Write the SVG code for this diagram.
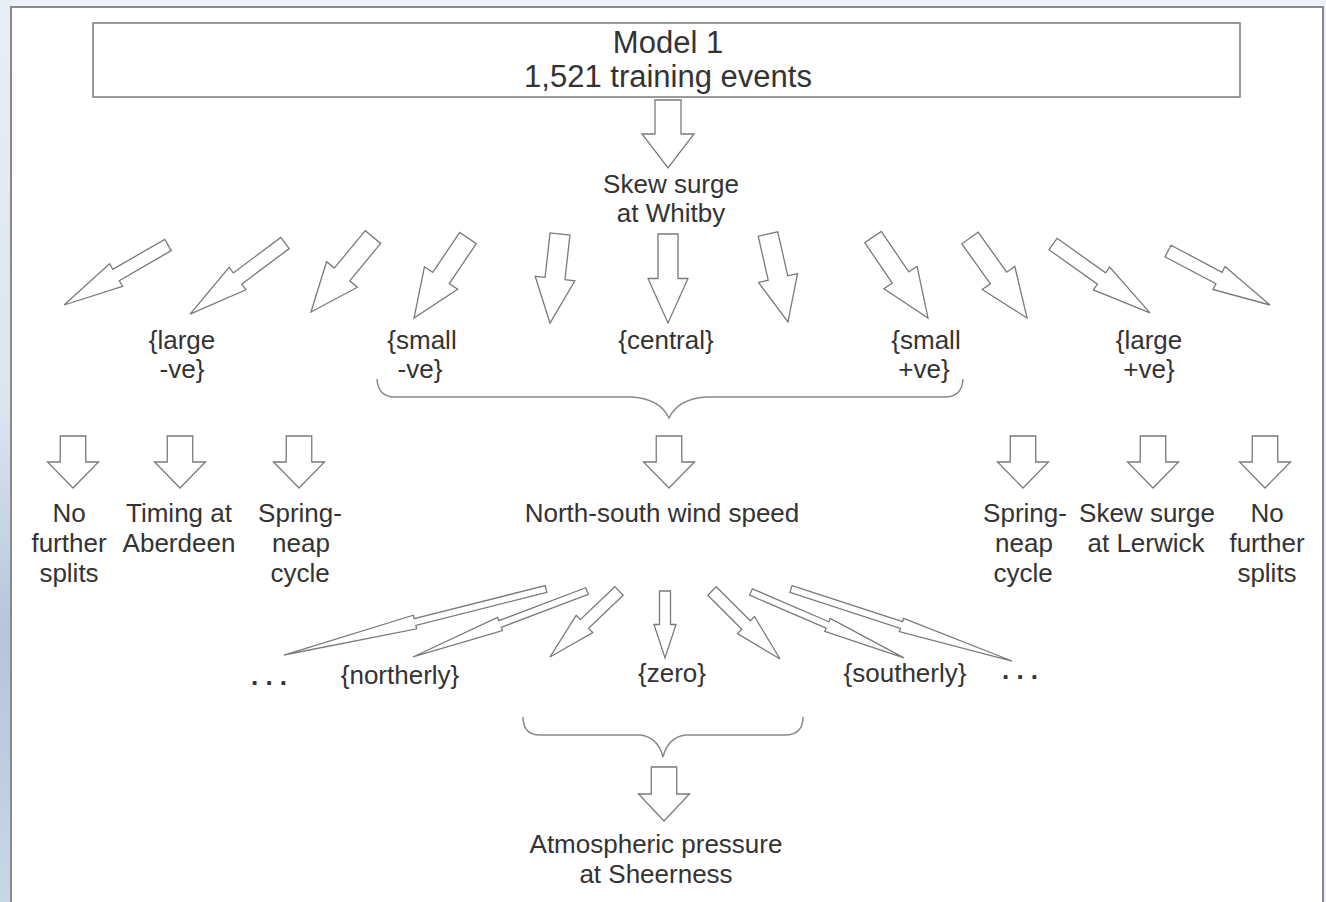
<svg xmlns="http://www.w3.org/2000/svg" xmlns:xlink="http://www.w3.org/1999/xlink" width="1326" height="902" viewBox="0 0 1326 902">
<style>
  .t { font-family: "Liberation Sans", Arial, sans-serif; fill: #333; text-anchor: middle; }
  .s26 { font-size: 26px; }
  .s30 { font-size: 31px; }
  .dots { font-weight: bold; }
  .arr { fill: #fff; stroke: #7a7a7a; stroke-width: 1.3; stroke-linejoin: miter; vector-effect: non-scaling-stroke; }
  .brace { fill: none; stroke: #888; stroke-width: 1.5; }
</style>
<defs>
  <linearGradient id="bg" x1="0" y1="0" x2="0" y2="1">
    <stop offset="0" stop-color="#e8eef6"/>
    <stop offset="0.45" stop-color="#dce5f0"/>
    <stop offset="0.7" stop-color="#b4c6dc"/>
    <stop offset="1" stop-color="#c8d6e7"/>
  </linearGradient>
  <polygon id="arr" class="arr" points="0,-0.25 0.5,-0.25 0.5,-0.5 1,0 0.5,0.5 0.5,0.25 0,0.25"/>
</defs>
<rect x="0" y="0" width="1326" height="902" fill="#edf2f8"/>
<rect x="0" y="0" width="12" height="902" fill="url(#bg)"/>
<rect x="11" y="7" width="1312" height="900" fill="#fff" stroke="#8a8a8a" stroke-width="2"/>

<g id="model1">
  <rect x="93" y="23" width="1147" height="74" fill="#fff" stroke="#7a7a7a" stroke-width="1.5"/>
  <text class="t s30" x="668" y="53">Model 1</text>
  <text class="t s30" x="668" y="87">1,521 training events</text>
</g>
<g id="skew-whitby">
  <text class="t s26" x="671" y="193">Skew surge</text>
  <text class="t s26" x="671" y="222">at Whitby</text>
</g>
<g id="large-neg"><text class="t s26" x="182" y="349">{large</text><text class="t s26" x="182" y="378">-ve}</text></g>
<g id="small-neg"><text class="t s26" x="422" y="349">{small</text><text class="t s26" x="420" y="378">-ve}</text></g>
<g id="central"><text class="t s26" x="666" y="349">{central}</text></g>
<g id="small-pos"><text class="t s26" x="926" y="349">{small</text><text class="t s26" x="924" y="378">+ve}</text></g>
<g id="large-pos"><text class="t s26" x="1149" y="349">{large</text><text class="t s26" x="1149" y="378">+ve}</text></g>

<g id="no-further-left"><text class="t s26" x="69" y="522">No</text><text class="t s26" x="69" y="552">further</text><text class="t s26" x="69" y="582">splits</text></g>
<g id="timing-aberdeen"><text class="t s26" x="179" y="522">Timing at</text><text class="t s26" x="179" y="552">Aberdeen</text></g>
<g id="spring-neap-left"><text class="t s26" x="300" y="522">Spring-</text><text class="t s26" x="301" y="552">neap</text><text class="t s26" x="300" y="582">cycle</text></g>
<g id="ns-wind"><text class="t s26" x="662" y="522">North-south wind speed</text></g>
<g id="spring-neap-right"><text class="t s26" x="1025" y="522">Spring-</text><text class="t s26" x="1024" y="552">neap</text><text class="t s26" x="1023" y="582">cycle</text></g>
<g id="skew-lerwick"><text class="t s26" x="1147" y="522">Skew surge</text><text class="t s26" x="1146" y="552">at Lerwick</text></g>
<g id="no-further-right"><text class="t s26" x="1267" y="522">No</text><text class="t s26" x="1267" y="552">further</text><text class="t s26" x="1267" y="582">splits</text></g>

<g id="dots-left"><text class="t s26 dots" x="269" y="685">. . .</text></g>
<g id="northerly"><text class="t s26" x="400" y="684">{northerly}</text></g>
<g id="zero"><text class="t s26" x="672" y="682">{zero}</text></g>
<g id="southerly"><text class="t s26" x="905" y="682">{southerly}</text></g>
<g id="dots-right"><text class="t s26 dots" x="1020" y="679">. . .</text></g>

<g id="atm-sheerness">
  <text class="t s26" x="656" y="853">Atmospheric pressure</text>
  <text class="t s26" x="656" y="883">at Sheerness</text>
</g>

<g id="connectors">
  <use xlink:href="#arr" transform="translate(668,100) rotate(90) scale(68,52)"/>
  <!-- level 1 fan -->
  <use xlink:href="#arr" transform="translate(168,245) rotate(150) scale(120,26)"/>
  <use xlink:href="#arr" transform="translate(285,243) rotate(143.2) scale(118.6,28)"/>
  <use xlink:href="#arr" transform="translate(373,237) rotate(129.6) scale(97.3,40)"/>
  <use xlink:href="#arr" transform="translate(468,238) rotate(124) scale(96.5,40)"/>
  <use xlink:href="#arr" transform="translate(560,234) rotate(96.4) scale(89.6,40)"/>
  <use xlink:href="#arr" transform="translate(668,234) rotate(90) scale(89,40)"/>
  <use xlink:href="#arr" transform="translate(768,234) rotate(77.2) scale(90.2,40)"/>
  <use xlink:href="#arr" transform="translate(873,237) rotate(55.8) scale(97.9,40)"/>
  <use xlink:href="#arr" transform="translate(970,238) rotate(54.5) scale(98.2,40)"/>
  <use xlink:href="#arr" transform="translate(1053,244) rotate(35.4) scale(119,28)"/>
  <use xlink:href="#arr" transform="translate(1168,251) rotate(27.9) scale(115.4,26)"/>
  <!-- brace 1 -->
  <path class="brace" d="M377,379 Q378,397 395,397 L632,397 Q660,399 669,418 Q678,399 706,397 L945,397 Q962,397 963,379"/>
  <!-- level 2 down arrows -->
  <use xlink:href="#arr" transform="translate(73,436) rotate(90) scale(52,51)"/>
  <use xlink:href="#arr" transform="translate(180,436) rotate(90) scale(52,51)"/>
  <use xlink:href="#arr" transform="translate(299,436) rotate(90) scale(52,51)"/>
  <use xlink:href="#arr" transform="translate(669,436) rotate(90) scale(52,51)"/>
  <use xlink:href="#arr" transform="translate(1023,436) rotate(90) scale(52,51)"/>
  <use xlink:href="#arr" transform="translate(1153,436) rotate(90) scale(52,51)"/>
  <use xlink:href="#arr" transform="translate(1265,436) rotate(90) scale(52,51)"/>
  <!-- level 3 fan -->
  <use xlink:href="#arr" transform="translate(546,589) rotate(165.86) scale(270.2,14)"/>
  <use xlink:href="#arr" transform="translate(587,591) rotate(159.23) scale(186.1,14)"/>
  <use xlink:href="#arr" transform="translate(619,591) rotate(136.3) scale(95.5,24)"/>
  <use xlink:href="#arr" transform="translate(665,591) rotate(90) scale(67,22)"/>
  <use xlink:href="#arr" transform="translate(712,591) rotate(45) scale(96.2,24)"/>
  <use xlink:href="#arr" transform="translate(751,592) rotate(23.3) scale(166.6,14)"/>
  <use xlink:href="#arr" transform="translate(791,589) rotate(18.05) scale(232.4,14)"/>
  <!-- brace 2 -->
  <path class="brace" d="M523,717 Q523,735 540,735 L640,735 Q658,737 663,757 Q668,737 686,735 L785,735 Q803,735 803,717"/>
  <use xlink:href="#arr" transform="translate(664,767) rotate(90) scale(54,51)"/>
</g>
</svg>
